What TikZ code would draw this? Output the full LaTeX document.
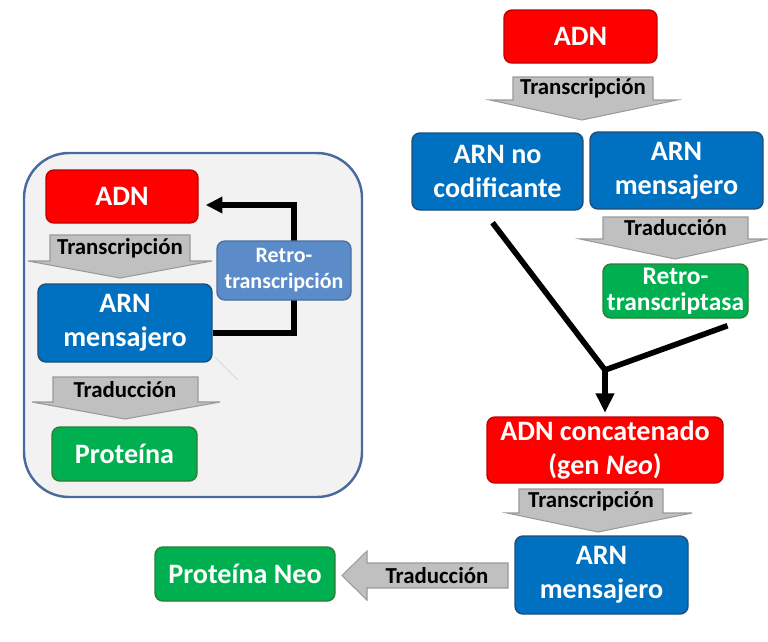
\documentclass[tikz,border=0pt]{standalone}
\usepackage{fontspec}
\setmainfont{Carlito}
\usepackage{xcolor}
\definecolor{adnred}{HTML}{FF0000}
\definecolor{adnedge}{HTML}{C00000}
\definecolor{arnblue}{HTML}{0070C0}
\definecolor{arnedge}{HTML}{1F4E79}
\definecolor{protgreen}{HTML}{00B050}
\definecolor{protedge}{HTML}{2E7D32}
\definecolor{retroblue}{HTML}{5B8BC8}
\definecolor{panelgray}{HTML}{F2F2F2}
\definecolor{paneledge}{HTML}{4A6A9E}
\definecolor{blockgray}{HTML}{C0C0C0}
\definecolor{blockedge}{HTML}{9A9A9A}
\usepackage{tikz}
\usetikzlibrary{arrows.meta,calc}

\begin{document}
\begin{tikzpicture}[x=0.2mm,y=-0.2mm,
  box/.style={rounded corners=4.5pt,line width=0.8pt,text=white,
    align=center,inner sep=0pt,font=\fontsize{16}{19.5}\selectfont\bfseries},
  red box/.style={box,fill=adnred,draw=adnedge},
  blue box/.style={box,fill=arnblue,draw=arnedge},
  green box/.style={box,fill=protgreen,draw=protedge},
  block/.style={fill=blockgray,draw=blockedge,line width=0.6pt},
  blocktext/.style={inner sep=0pt,font=\fontsize{13}{15}\selectfont\bfseries},
  link/.style={line width=3.2pt,black}]
  \useasboundingbox (0,0) rectangle (768,641);
  % Left panel: the usual flow
  \draw[fill=panelgray,draw=paneledge,line width=1.4pt,rounded corners=0.9cm]
    (24,153) rectangle (362,497);
  \node[red box,minimum width=3.04cm,minimum height=1.06cm] (adnL) at (122,196.5) {ADN};
  \draw[block] (50,235) -- (190,235) -- (190,261) -- (212,261) -- (120,278)
    -- (28,261) -- (50,261) -- cycle;
  \node[blocktext] (trL) at (120,248) {Transcripción};
  \node[blue box,minimum width=3.48cm,minimum height=1.56cm] (arnL) at (125,323) {ARN\\mensajero};
  \draw[block] (53,377) -- (198,377) -- (198,402) -- (220,402) -- (125,419)
    -- (32,402) -- (53,402) -- cycle;
  \node[blocktext] (tdL) at (125,389.5) {Traducción};
  \node[green box,minimum width=2.9cm,minimum height=1.08cm] (protL) at (124.5,454) {Proteína};
  \draw[gray!35,line width=0.4pt] (215,357) -- (238,380);
  % Retro loop
  \draw[link,-{Triangle[length=9.5pt,width=9pt]}] ($(arnL.east)+(0,10)$) -- ++(81,0)
    |- ($(adnL.east)+(7,8.5)$);
  \node[box,fill=retroblue,draw=retroblue!80!black,minimum width=2.68cm,minimum height=1.18cm,
    font=\fontsize{12.5}{14.8}\selectfont\bfseries] (retroL) at (284,270.5) {Retro-\\transcripción};
  % Right side: the Neo gene
  \node[red box,minimum width=3.06cm,minimum height=1.06cm] (adnR) at (580.5,36.5) {ADN};
  \draw[block] (513,77) -- (653,77) -- (653,100) -- (677,100) -- (582,120)
    -- (490,100) -- (513,100) -- cycle;
  \node[blocktext] (trR) at (583,88.5) {Transcripción};
  \node[blue box,minimum width=3.42cm,minimum height=1.54cm] (arnnc) at (497.5,171.5) {ARN no\\codificante};
  \node[blue box,minimum width=3.46cm,minimum height=1.54cm] (arnmR) at (676.5,170.5) {ARN\\mensajero};
  \draw[block] (603,217) -- (748,217) -- (748,239) -- (767,239) -- (675,259)
    -- (580,239) -- (603,239) -- cycle;
  \node[blocktext] (tdR) at (675.5,228) {Traducción};
  \node[green box,minimum width=2.9cm,minimum height=1.08cm,
    font=\fontsize{14.5}{15}\selectfont\bfseries] (retroR) at (675.5,291) {Retro-\\transcriptasa};
  % Merge
  \coordinate (junc) at (605,370);
  \node[red box,minimum width=4.72cm,minimum height=1.32cm] (adnc) at (605,450)
    {ADN concatenado\\(gen \textit{Neo})};
  \draw[link] ($(arnnc.south)+(-5,12)$) -- (junc);
  \draw[link] ($(retroR.south)+(52,7)$) -- (junc);
  \draw[link,-{Triangle[length=11pt,width=10pt]},shorten >=2pt] (junc) -- (adnc.north);
  \draw[block] (519,489) -- (663,489) -- (663,513) -- (692,513) -- (598,532)
    -- (507,513) -- (519,513) -- cycle;
  \node[blocktext] (trN) at (591,501) {Transcripción};
  \node[blue box,minimum width=3.46cm,minimum height=1.56cm] (arnm2) at (601.5,575) {ARN\\mensajero};
  \draw[block] (508,563) -- (367,563) -- (367,551) -- (342,575.5) -- (367,600)
    -- (367,588) -- (508,588) -- cycle;
  \node[blocktext] (tdN) at (437,575.5) {Traducción};
  \node[green box,minimum width=3.6cm,minimum height=1.08cm] (protneo) at (245,574) {Proteína Neo};
\end{tikzpicture}
\end{document}
